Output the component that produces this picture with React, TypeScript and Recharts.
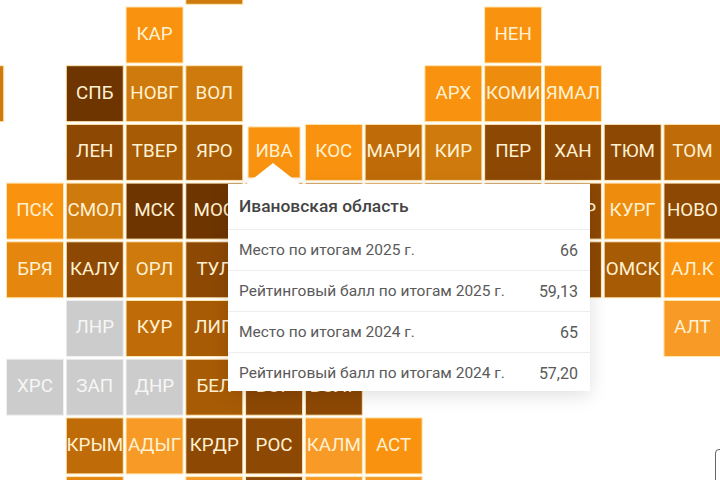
import React from 'react';
import { ScatterChart, Scatter, XAxis, YAxis, Tooltip } from 'recharts';

// tile grid: label, column, row, colour tier
// tiles whose text is off the page or under the tooltip have no label
const row_m1 = [''];
const row_m1_cols = [3];
const row_m1_tiers = [3];
const row0 = ['КАР', 'НЕН'];
const row0_cols = [2, 8];
const row0_tiers = [0, 0];
const row1 = ['', 'СПБ', 'НОВГ', 'ВОЛ', 'АРХ', 'КОМИ', 'ЯМАЛ'];
const row1_cols = [-1, 1, 2, 3, 7, 8, 9];
const row1_tiers = [3, 7, 3, 3, 0, 1, 0];
const row2 = ['ЛЕН', 'ТВЕР', 'ЯРО', 'ИВА', 'КОС', 'МАРИ', 'КИР', 'ПЕР', 'ХАН', 'ТЮМ', 'ТОМ'];
const row2_cols = [1, 2, 3, 4, 5, 6, 7, 8, 9, 10, 11];
const row2_tiers = [6, 5, 5, 0, 0, 4, 3, 6, 6, 6, 4];
const row3 = ['ПСК', 'СМОЛ', 'МСК', 'МОС', '', '', '', '', '', 'СВЕР', 'КУРГ', 'НОВО'];
const row3_cols = [0, 1, 2, 3, 4, 5, 6, 7, 8, 9, 10, 11];
const row3_tiers = [0, 3, 7, 7, 5, 6, 4, 6, 6, 6, 1, 6];
const row4 = ['БРЯ', 'КАЛУ', 'ОРЛ', 'ТУЛ', '', 'ОМСК', 'АЛ.К'];
const row4_cols = [0, 1, 2, 3, 9, 10, 11];
const row4_tiers = [2, 6, 3, 6, 6, 5, 0];
const row5 = ['ЛНР', 'КУР', 'ЛИП', 'АЛТ'];
const row5_cols = [1, 2, 3, 11];
const row5_tiers = [9, 4, 5, 8];
const row6 = ['ХРС', 'ЗАП', 'ДНР', 'БЕЛ', 'ВОР', 'ВОЛГ'];
const row6_cols = [0, 1, 2, 3, 4, 5];
const row6_tiers = [9, 9, 9, 5, 6, 6];
const row7 = ['КРЫМ', 'АДЫГ', 'КРДР', 'РОС', 'КАЛМ', 'АСТ'];
const row7_cols = [1, 2, 3, 4, 5, 6];
const row7_tiers = [4, 8, 6, 6, 8, 0];
const row8 = ['', '', '', '', ''];
const row8_cols = [1, 3, 4, 5, 6];
const row8_tiers = [2, 8, 6, 8, 8];

const tierColors = ['#F9920F', '#EE8C0E', '#E5860F', '#CF7A0C', '#BF6B08', '#A85B05', '#8D4804', '#6F3500', '#F79A26', '#CCCCCC'];

const tooltipTitle = 'Ивановская область';
const tooltipLabels = ['Место по итогам 2025 г.', 'Рейтинговый балл по итогам 2025 г.', 'Место по итогам 2024 г.', 'Рейтинговый балл по итогам 2024 г.'];
const tooltipValues = ['66', '59,13', '65', '57,20'];
const activeLabel = 'ИВА';

const rows = [
  [row_m1, row_m1_cols, row_m1_tiers, -1],
  [row0, row0_cols, row0_tiers, 0],
  [row1, row1_cols, row1_tiers, 1],
  [row2, row2_cols, row2_tiers, 2],
  [row3, row3_cols, row3_tiers, 3],
  [row4, row4_cols, row4_tiers, 4],
  [row5, row5_cols, row5_tiers, 5],
  [row6, row6_cols, row6_tiers, 6],
  [row7, row7_cols, row7_tiers, 7],
  [row8, row8_cols, row8_tiers, 8],
] as [string[], number[], number[], number][];

const tiles = rows.flatMap(([labels, cols, tiers, row]) =>
  labels.map((label, i) => ({ label, col: cols[i], row, tier: tiers[i] })),
);

const Tile = (props: any) => {
  const { cx, cy, payload } = props;
  const active = payload.label === activeLabel;
  const w = active ? 52 : 57;
  const h = active ? 51 : 56;
  return (
    <g>
      <rect
        x={cx - w / 2}
        y={cy - h / 2}
        width={w}
        height={h}
        fill={tierColors[payload.tier]}
        stroke={payload.tier === 9 ? '#F0F0F0' : '#FFE6B0'}
        strokeWidth={1}
      />
      {payload.label && (
        <text
          x={cx}
          y={cy - 1}
          textAnchor="middle"
          dominantBaseline="central"
          fontFamily="Roboto"
          fontSize={18.8}
          fill={payload.tier === 9 ? '#F6F6F6' : '#FFF1D2'}
        >
          {payload.label}
        </text>
      )}
    </g>
  );
};

const Card = () => (
  <div
    style={{
      position: 'relative',
      width: 362,
      height: 207,
      background: '#fff',
      boxShadow: '0 4px 18px rgba(0,0,0,0.13)',
      fontFamily: 'Roboto',
      color: '#5A5A5A',
      boxSizing: 'border-box',
    }}
  >
    <div
      style={{
        position: 'absolute',
        left: 17,
        top: -21,
        width: 56,
        height: 22,
        background: '#fff',
        clipPath: 'polygon(50% 0, 100% 100%, 0 100%)',
      }}
    />
    <div style={{ height: 45, lineHeight: '45px', paddingLeft: 11, fontSize: 17.4, fontWeight: 500, color: '#444' }}>
      {tooltipTitle}
    </div>
    {tooltipLabels.map((label, i) => (
      <div
        key={label}
        style={{
          display: 'flex',
          justifyContent: 'space-between',
          height: 41,
          lineHeight: '41px',
          padding: '0 12px 0 11px',
          fontSize: 15.5,
          borderTop: '1px solid #EEEEEE',
          boxSizing: 'border-box',
        }}
      >
        <span>{label}</span>
        <span style={{ fontSize: 16 }}>{tooltipValues[i]}</span>
      </div>
    ))}
  </div>
);

export default function App() {
  return (
    <div style={{ position: 'absolute', left: 0, top: 0, width: 720, height: 480, overflow: 'hidden', background: '#fff' }}>
      <ScatterChart width={720} height={480} margin={{ top: 0, right: 0, bottom: 0, left: 0 }}>
        <XAxis type="number" dataKey="col" hide domain={[-0.5856, 11.461]} allowDataOverflow />
        <YAxis type="number" dataKey="row" hide reversed domain={[-0.5963, 7.581]} allowDataOverflow />
        <Tooltip
          active
          defaultIndex={tiles.findIndex(t => t.label === activeLabel)}
          position={{ x: 228, y: 184 }}
          cursor={false}
          content={<Card />}
          isAnimationActive={false}
          wrapperStyle={{ outline: 'none' }}
        />
        <Scatter data={tiles} shape={<Tile />} isAnimationActive={false} />
      </ScatterChart>
      {/* cut-off button in the bottom right corner */}
      <div
        style={{
          position: 'absolute',
          left: 715,
          top: 449,
          width: 30,
          height: 60,
          border: '1.5px solid #666',
          borderRadius: 4,
          boxSizing: 'border-box',
        }}
      />
    </div>
  );
}
